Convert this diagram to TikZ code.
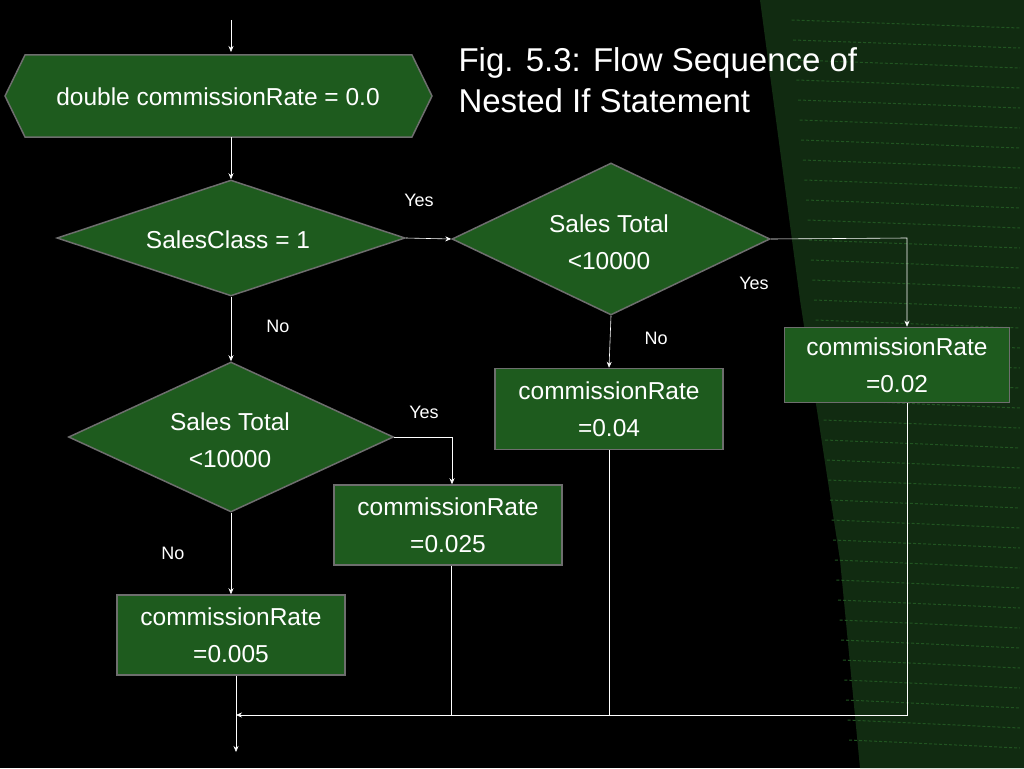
\documentclass[tikz,border=0pt]{standalone}
\usepackage{fontspec}
\setmainfont{Liberation Sans}
\usetikzlibrary{shapes.geometric,arrows.meta}
\definecolor{boxg}{HTML}{1E5B1E}
\definecolor{edgeg}{HTML}{6E6E6E}
\definecolor{codeg}{HTML}{2F7A2F}
\begin{document}
\begin{tikzpicture}[x=1pt,y=-1pt,
  every node/.style={text=white,font=\fontsize{24.5}{37}\selectfont,align=center},
  box/.style={draw=edgeg,line width=1.5pt,fill=boxg,inner sep=0pt},
  dia/.style={box,diamond},
  lbl/.style={font=\fontsize{18}{20}\selectfont},
  ln/.style={draw=white,line width=0.6pt},
  arr/.style={ln,-{Stealth[length=6pt,width=5pt]}}]
\fill[black] (0,0) rectangle (1024,768);
\useasboundingbox (0,0) rectangle (1024,768);
% code backdrop hint
\fill[codeg!35!black] (760,0) -- (1024,0) -- (1024,768) -- (860,768) -- (840,560) -- (800,300) -- cycle;
\foreach \y in {20,40,...,740}{\draw[codeg!70!black,line width=1pt,dash pattern=on 3pt off 2pt] (790+\y*0.08,\y) -- (1020,\y+8);}
% title
\node[anchor=north west,align=left,font=\fontsize{33}{41}\selectfont] (title) at (455,44) {Fig. 5.3: Flow Sequence of\\Nested If Statement};
% hexagon
\fill[boxg,draw=edgeg,line width=1.5pt] (5,96) -- (25,55) -- (412,55) -- (432,96) -- (412,137) -- (25,137) -- cycle;
\node (hex) at (218,97) {double commissionRate = 0.0};
\coordinate (hexT) at (231,52); \coordinate (hexB) at (231,137);
\coordinate (start) at (231,20);
\node[dia,minimum width=348pt,minimum height=116pt] (d1) at (231,238) {};
\node at (228,240) {SalesClass = 1};
\node[dia,minimum width=318pt,minimum height=152pt] (d2) at (611,239) {};
\node at (609,242) {Sales Total\\<10000};
\node[dia,minimum width=325pt,minimum height=150pt] (d3) at (231,437) {};
\node at (230,440) {Sales Total\\<10000};
\node[box,minimum width=225pt,minimum height=75pt] (b1) at (897,365) {commissionRate\\=0.02};
\node[box,minimum width=228pt,minimum height=81pt] (b2) at (609,409) {commissionRate\\=0.04};
\node[box,minimum width=228pt,minimum height=80pt] (b3) at (448,525) {commissionRate\\=0.025};
\node[box,minimum width=228pt,minimum height=80pt] (b4) at (231,635) {commissionRate\\=0.005};
\coordinate (end) at (236,752);
\coordinate (m1) at (907,238); \coordinate (m2) at (452,437);
\coordinate (j1) at (907,715); \coordinate (j2) at (609,715); \coordinate (j3) at (451,715); \coordinate (j4) at (236,715);
\draw[arr] (start) -- (hexT);
\draw[arr] (hexB) -- (d1.north);
\draw[arr] (d1.east) -- (d2.west);
\draw[arr] (d2.east) -- (m1) -- (b1.north -| m1);
\draw[arr] (d2.south) -- (b2.north);
\draw[arr] (d1.south) -- (d3.north);
\draw[arr] (d3.south) -- (b4.north -| d3.south);
\draw[arr] (d3.east) -- (m2) -- (b3.north -| m2);
\draw[arr] (b4.south -| end) -- (end);
\draw[ln] (b3.south -| j3) -- (j3);
\draw[ln] (b2.south) -- (j2);
\draw[arr] (b1.south -| j1) -- (j1) -- (j4);
\node[lbl] (y1) at (419,200) {Yes};
\node[lbl] (y2) at (754,283) {Yes};
\node[lbl] (n2) at (656,338) {No};
\node[lbl] (n1) at (278,326) {No};
\node[lbl] (y3) at (424,412) {Yes};
\node[lbl] (n3) at (173,553) {No};
\end{tikzpicture}
\end{document}
